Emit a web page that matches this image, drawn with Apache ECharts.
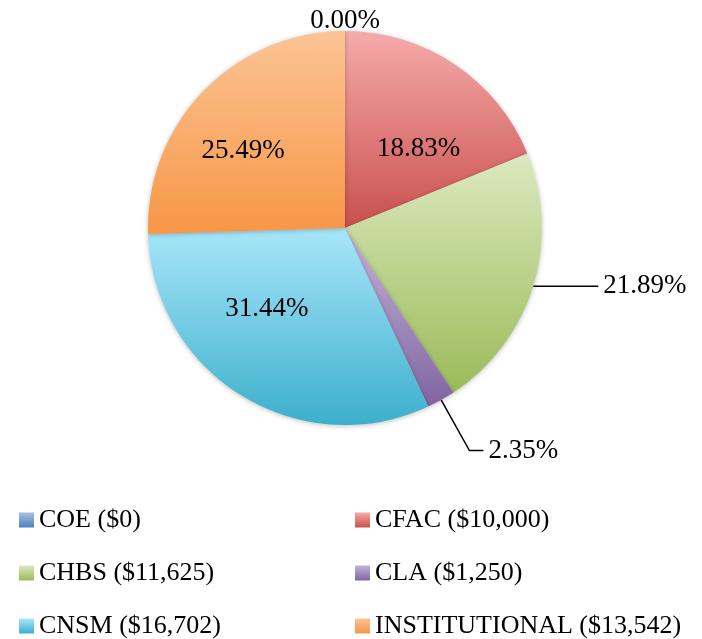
<!DOCTYPE html>
<html>
<head>
<meta charset="utf-8">
<script src="https://cdn.jsdelivr.net/npm/echarts@6/dist/echarts.min.js"></script>
<style>
  html, body { margin: 0; padding: 0; background: #fff; }
  #chart { width: 702px; height: 639px; }
</style>
</head>
<body>
<div id="chart"></div>
<script>
// data
var colleges = ['COE', 'CFAC', 'CHBS', 'CLA', 'CNSM', 'INSTITUTIONAL'];
var amounts = [0, 10000, 11625, 1250, 16702, 13542];

// slice gradient, light on top, darker below
var topColors = ['#a7c0e0', '#f5abaa', '#dbe9bf', '#c3b5d6', '#a8e6fa', '#fbc495'];
var bottomColors = ['#4f81bd', '#c9504d', '#9bbb59', '#8064a2', '#3cafcc', '#f79646'];

// where each label sits: inside the slice or outside with a leader line
var labelPos = ['outside', 'inside', 'outside', 'outside', 'inside', 'inside'];
var lineLen = [0, 0, 0, 58, 0, 0];
var lineLen2 = [0, 0, 65, 14, 0, 0];
var labelShift = [[40, -10], [17, 5], [0, 0], [0, 0], [-25, -6], [-29, -6]];

function grad(i) {
  return new echarts.graphic.LinearGradient(0, 0, 0, 1, [
    { offset: 0, color: topColors[i] },
    { offset: 1, color: bottomColors[i] }
  ]);
}

var pieData = colleges.map(function (name, i) {
  return {
    name: name,
    value: amounts[i],
    itemStyle: { color: grad(i) },
    label: { position: labelPos[i] },
    labelLine: { show: lineLen[i] + lineLen2[i] > 0, length: lineLen[i], length2: lineLen2[i] }
  };
});

function legendName(name) {
  var v = amounts[colleges.indexOf(name)];
  return name + ' ($' + v.toLocaleString('en-US') + ')';
}

var font = '"Liberation Serif", "DejaVu Serif", serif';

var legendBase = {
  orient: 'vertical',
  top: 507,
  height: 140,
  padding: 0,
  itemGap: 27,
  itemWidth: 15,
  itemHeight: 15,
  icon: 'rect',
  formatter: legendName,
  textStyle: { fontFamily: font, fontSize: 26, color: '#000' },
  selectedMode: false
};

var myChart = echarts.init(document.getElementById('chart'));
myChart.setOption({
  animation: false,
  legend: [
    Object.assign({}, legendBase, { left: 19, data: ['COE', 'CHBS', 'CNSM'] }),
    Object.assign({}, legendBase, { left: 355, data: ['CFAC', 'CLA', 'INSTITUTIONAL'] })
  ],
  series: [
    {
      type: 'pie',
      center: [345, 228],
      radius: 197,
      startAngle: 90,
      clockwise: true,
      avoidLabelOverlap: false,
      minShowLabelAngle: 0,
      percentPrecision: 2,
      itemStyle: {
        shadowBlur: 5,
        shadowColor: 'rgba(0,0,0,0.25)',
        shadowOffsetY: 1
      },
      label: {
        fontFamily: font,
        fontSize: 27,
        color: '#000',
        formatter: function (p) {
          return p.percent.toFixed(2) + '%';
        }
      },
      labelLine: {
        lineStyle: { color: '#000', width: 1.5 }
      },
      labelLayout: function (p) {
        var s = labelShift[p.dataIndex];
        return { dx: s[0], dy: s[1] };
      },
      data: pieData
    }
  ]
});
</script>
</body>
</html>
